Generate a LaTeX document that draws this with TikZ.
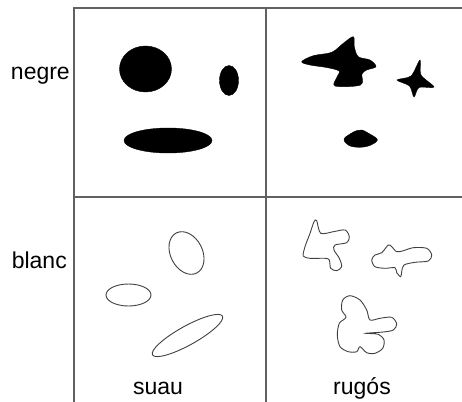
\documentclass[tikz,border=0pt]{standalone}
\usepackage{fontspec}
\setmainfont{Liberation Sans}
\usepackage{tikz}
\usetikzlibrary{positioning}

\begin{document}
\begin{tikzpicture}[
                x=1pt, y=-1pt,
                grid/.style={draw=black!62, line width=2pt},
                solidblob/.style={fill=black, draw=black, line width=0.4pt},
                hollow/.style={draw=black!75, line width=0.9pt},
                lbl/.style={font=\fontsize{23}{26}\selectfont, inner sep=0pt}
            ]
                \useasboundingbox (0,0) rectangle (462,401);
                \clip (0,0) rectangle (462,401);

                % Frame
                \draw[grid] (74,420) -- (74,8) -- (480,8);
                \draw[grid] (266,8) -- (266,420);
                \draw[grid] (74,197) -- (480,197);

                % Labels
                \node[lbl, anchor=base east] (negre) at (70,80) {negre};
                \node[lbl, anchor=base east] (blanc) at (67,268) {blanc};
                \node[lbl, anchor=base] (suau) at (158,394) {suau};
                \node[lbl, anchor=base] (rugos) at (362,394) {rugós};

                % negre - suau
                \fill[solidblob] (145.5,69) ellipse [x radius=26, y radius=23];
                \fill[solidblob] (229,80.5) ellipse [x radius=9.5, y radius=15];
                \fill[solidblob] (168,140.5) ellipse [x radius=44, y radius=12.5];

                % negre - rugos
                \fill[solidblob] plot[smooth cycle, tension=0.55] coordinates {
                    (301.7,61.7) (313.3,55.7) (331.7,52.3) (343.3,43.3) (353.3,36.7)
                    (354.3,46.7) (358.3,56.7) (370,60) (376,66.7) (366.7,70)
                    (362,74) (360.5,85) (335,86) (337,77) (339,71)
                    (326.7,67.5) (310,65)};
                \fill[solidblob] plot[smooth cycle, tension=0.5] coordinates {
                    (420,60) (421,75) (434,87) (419,87.5) (414,97)
                    (409.5,86) (397,80) (411,76)};
                \fill[solidblob] plot[smooth cycle, tension=0.6] coordinates {
                    (344,139.3) (350,134) (357,130.5) (362,130) (368,133)
                    (377.3,139.5) (371,145) (360,147.3) (349,145.5)};

                % blanc - suau
                \draw[hollow, rotate around={27:(186.5,253)}] (186.5,253) ellipse [x radius=16, y radius=22.5];
                \draw[hollow] (128.5,295) ellipse [x radius=22.5, y radius=11];
                \draw[hollow, rotate around={29:(187.5,335.5)}] (187.5,335.5) ellipse [x radius=40, y radius=9.5];

                % blanc - rugos
                \draw[hollow] plot[smooth cycle, tension=0.5] coordinates {
                    (316.7,220.7) (320.7,233.3) (333.3,231.7) (345,230) (349.3,236.7)
                    (346.7,242.7) (335,245) (334,250) (339.3,258.3) (341.7,266.7)
                    (336.7,270.7) (330.7,268.3) (329.3,260) (325,258.3) (310,258.3)
                    (303.3,256) (305,246.7) (310,233.3) (314,221.7)};
                \draw[hollow] plot[smooth cycle, tension=0.5] coordinates {
                    (371.7,260) (375,255) (381.7,252.7) (388.3,245) (391.7,246.7)
                    (396.7,251.7) (403.3,250.7) (413.3,247.7) (426.7,248.3) (431.7,255)
                    (428.3,261) (415,262.3) (404,265) (401.7,271.7) (400.7,276.7)
                    (396.7,272.7) (395,267.7) (385,268.3) (375,266.7)};
                \draw[hollow] plot[smooth cycle, tension=0.5] coordinates {
                    (350,295.7) (360,300) (366.7,310) (370,320) (380,318.3)
                    (391.7,317.3) (396.7,324) (393.3,330) (383.3,332) (366,333.3)
                    (378.3,334.3) (384,340) (382.7,348.3) (375,353.3) (366.7,352.7)
                    (360,346.7) (356.7,351.7) (348.3,351.7) (340,346.7) (337.3,335)
                    (339.3,323.3) (346,317.3) (341.7,310) (342.7,300)};
            \end{tikzpicture}
\end{document}
